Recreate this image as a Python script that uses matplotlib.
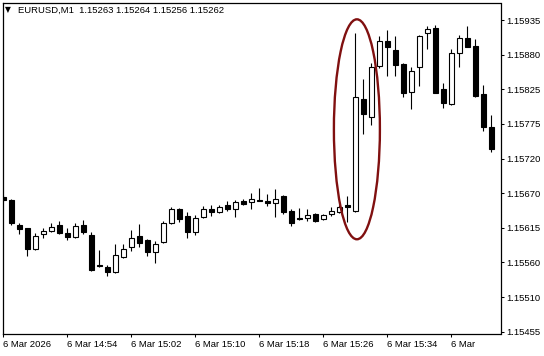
import numpy as np
import matplotlib
matplotlib.use("Agg")
import matplotlib.pyplot as plt
from matplotlib.patches import Ellipse

plt.rcParams["font.family"] = ["Liberation Sans", "DejaVu Sans"]

# EURUSD M1, 6 Mar 14:46 .. 15:47
opens = [1.15662, 1.15658, 1.15620, 1.15614, 1.15582, 1.15605, 1.15610, 1.15619,
         1.15607, 1.15601, 1.15619, 1.15604, 1.15557, 1.15555, 1.15547, 1.15570,
         1.15586, 1.15602, 1.15596, 1.15578, 1.15593, 1.15622, 1.15644, 1.15633,
         1.15609, 1.15631, 1.15644, 1.15640, 1.15650, 1.15644, 1.15657, 1.15654,
         1.15658, 1.15657, 1.15653, 1.15664, 1.15641, 1.15630, 1.15630, 1.15636,
         1.15628, 1.15636, 1.15640, 1.15650, 1.15641, 1.15814, 1.15786, 1.15864,
         1.15903, 1.15889, 1.15867, 1.15824, 1.15863, 1.15915, 1.15922, 1.15828,
         1.15805, 1.15884, 1.15908, 1.15895, 1.15821, 1.15770]
highs = [1.15665, 1.15660, 1.15623, 1.15615, 1.15607, 1.15614, 1.15623, 1.15625,
         1.15614, 1.15623, 1.15627, 1.15609, 1.15581, 1.15558, 1.15590, 1.15590,
         1.15612, 1.15621, 1.15597, 1.15594, 1.15625, 1.15647, 1.15645, 1.15639,
         1.15635, 1.15649, 1.15650, 1.15650, 1.15657, 1.15658, 1.15659, 1.15669,
         1.15676, 1.15667, 1.15674, 1.15666, 1.15644, 1.15645, 1.15644, 1.15638,
         1.15636, 1.15647, 1.15650, 1.15664, 1.15915, 1.15844, 1.15869, 1.15910,
         1.15920, 1.15910, 1.15869, 1.15862, 1.15912, 1.15926, 1.15928, 1.15838,
         1.15890, 1.15912, 1.15926, 1.15906, 1.15835, 1.15788]
lows = [1.15656, 1.15619, 1.15605, 1.15572, 1.15581, 1.15599, 1.15609, 1.15605,
        1.15596, 1.15600, 1.15605, 1.15549, 1.15555, 1.15541, 1.15546, 1.15569,
        1.15580, 1.15586, 1.15572, 1.15561, 1.15592, 1.15621, 1.15624, 1.15600,
        1.15604, 1.15630, 1.15633, 1.15638, 1.15641, 1.15632, 1.15650, 1.15644,
        1.15656, 1.15649, 1.15632, 1.15637, 1.15617, 1.15627, 1.15626, 1.15624,
        1.15627, 1.15633, 1.15638, 1.15624, 1.15640, 1.15760, 1.15773, 1.15861,
        1.15849, 1.15849, 1.15817, 1.15798, 1.15834, 1.15891, 1.15822, 1.15800,
        1.15804, 1.15863, 1.15893, 1.15817, 1.15764, 1.15732]
closes = [1.15658, 1.15622, 1.15613, 1.15583, 1.15603, 1.15610, 1.15616, 1.15607,
          1.15601, 1.15618, 1.15609, 1.15550, 1.15556, 1.15547, 1.15573, 1.15583,
          1.15599, 1.15592, 1.15578, 1.15590, 1.15623, 1.15644, 1.15628, 1.15609,
          1.15630, 1.15644, 1.15639, 1.15647, 1.15644, 1.15654, 1.15652, 1.15659,
          1.15657, 1.15653, 1.15659, 1.15640, 1.15623, 1.15628, 1.15635, 1.15626,
          1.15635, 1.15641, 1.15647, 1.15647, 1.15817, 1.15790, 1.15862, 1.15903,
          1.15894, 1.15866, 1.15822, 1.15857, 1.15911, 1.15921, 1.15823, 1.15807,
          1.15884, 1.15908, 1.15894, 1.15818, 1.15771, 1.15737]

time_labels = ["6 Mar 2026", "6 Mar 14:54", "6 Mar 15:02", "6 Mar 15:10",
               "6 Mar 15:18", "6 Mar 15:26", "6 Mar 15:34", "6 Mar"]
price_labels = ["1.15935", "1.15880", "1.15825", "1.15775", "1.15720",
                "1.15670", "1.15615", "1.15560", "1.15510", "1.15455"]
header = "EURUSD,M1  1.15263 1.15264 1.15256 1.15262"

o = np.array(opens)
h = np.array(highs)
l = np.array(lows)
c = np.array(closes)
x = np.arange(len(o))
up = c >= o

fig = plt.figure(figsize=(5.44, 3.56), dpi=100)
ax = fig.add_axes([2.5 / 544, 22 / 356, 498 / 544, 331.5 / 356])

lw = 0.8
ax.vlines(x, l, h, color="black", linewidth=lw, zorder=1)
ax.bar(x, np.abs(c - o), bottom=np.minimum(o, c), width=0.6,
       color=np.where(up, "white", "black"), edgecolor="black",
       linewidth=lw, zorder=2)

# red ring round the spike bar
ax.add_patch(Ellipse((44.2, 1.157667), 5.75, 0.003388, fill=False,
                     edgecolor="#801010", linewidth=1.7, zorder=3))

ax.set_xlim(-0.1, 62.15)
ax.set_ylim(1.154514, 1.159620)

ax.set_xticks(np.arange(len(time_labels)) * 8)
ax.set_xticklabels(time_labels, ha="left")
ax.set_yticks(np.linspace(1.15935, 1.15455, len(price_labels)))
ax.set_yticklabels(price_labels)

ax.yaxis.tick_right()
ax.tick_params(axis="both", direction="out", length=2.5, width=0.75,
               labelsize=6.8, colors="black", pad=1.5)
for s in ax.spines.values():
    s.set_linewidth(0.9)
    s.set_color("black")

fig.text(5 / 544, 1 - 10 / 356, "\u25bc", fontsize=5.5, va="center",
         family="DejaVu Sans")
fig.text(18 / 544, 1 - 10 / 356, header, fontsize=6.8, va="center")

fig.savefig("out.png", dpi=100)
